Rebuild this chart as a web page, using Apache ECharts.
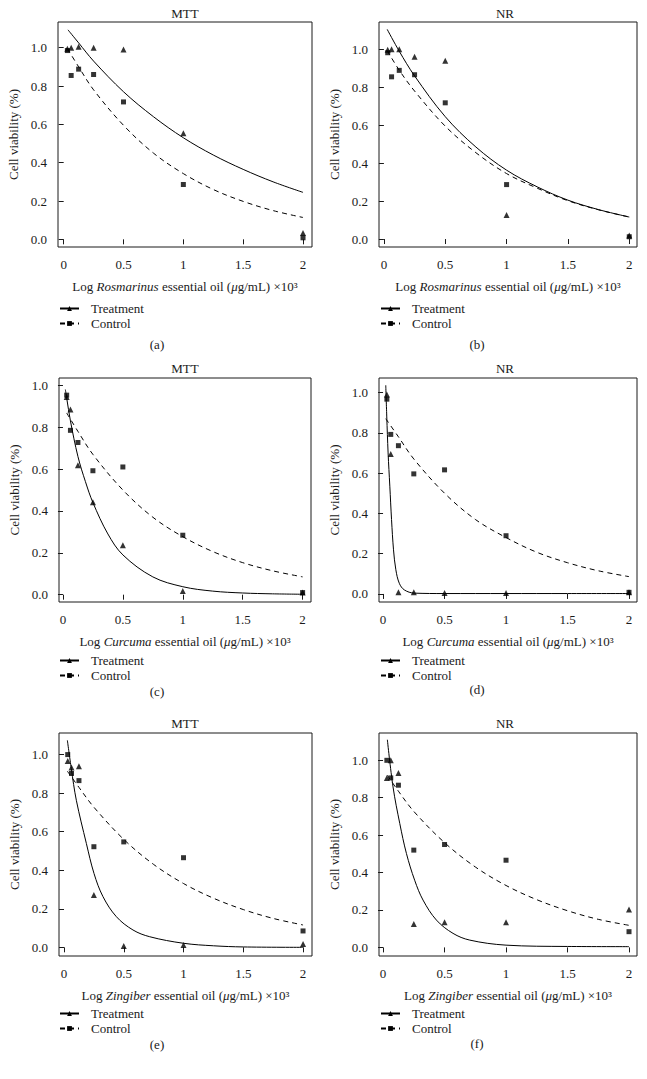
<!DOCTYPE html>
<html><head><meta charset="utf-8">
<script src="https://cdn.jsdelivr.net/npm/echarts@6/dist/echarts.min.js"></script>
<style>html,body{margin:0;padding:0;background:#fff}#c{width:647px;height:1079px}</style>
</head><body><div id="c"></div>
<script>
// ---------- DATA ----------
const doses = [0.031, 0.0625, 0.125, 0.25, 0.5, 1, 2];
const xTicks = [0, 0.5, 1, 1.5, 2];
const yTicks = [0, 0.2, 0.4, 0.6, 0.8, 1.0];
const panelTitles = ['MTT', 'NR', 'MTT', 'NR', 'MTT', 'NR'];
const panelLabels = ['(a)', '(b)', '(c)', '(d)', '(e)', '(f)'];
const oilNames = ['Rosmarinus', 'Rosmarinus', 'Curcuma', 'Curcuma', 'Zingiber', 'Zingiber'];
const seriesNames = ['Treatment', 'Control'];
const yAxisTitle = 'Cell viability (%)';

// measured points (triangles = treatment, squares = control)
const aTreat = [0.995, 1.0, 1.005, 1.0, 0.99, 0.553, 0.033];
const aCtrl  = [0.985, 0.855, 0.888, 0.86, 0.717, 0.286, 0.008];
const bTreat = [0.998, 1.0, 1.0, 0.961, 0.94, 0.127, 0.018];
const bCtrl  = [0.982, 0.855, 0.889, 0.866, 0.718, 0.287, 0.012];
const cTreat = [0.944, 0.884, 0.618, 0.441, 0.236, 0.018, 0.01];
const cCtrl  = [0.953, 0.785, 0.727, 0.592, 0.61, 0.284, 0.01];
const dTreat = [0.99, 0.695, 0.008, 0.008, 0.005, 0.005, 0.008];
const dCtrl  = [0.967, 0.792, 0.736, 0.596, 0.616, 0.289, 0.008];
const eTreat = [0.967, 0.933, 0.94, 0.271, 0.007, 0.012, 0.017];
const eCtrl  = [1.0, 0.902, 0.865, 0.522, 0.547, 0.465, 0.085];
const fTreat = [0.905, 1.0, 0.932, 0.125, 0.135, 0.135, 0.203];
const fCtrl  = [1.0, 0.906, 0.867, 0.52, 0.55, 0.466, 0.084];

// fitted curves
const aTreatCurveX = [0.036, 0.125, 0.25, 0.5, 0.75, 1, 1.25, 1.5, 1.75, 2];
const aTreatCurveY = [1.093, 1.025, 0.93, 0.77, 0.64, 0.53, 0.44, 0.365, 0.30, 0.245];
const aCtrlCurveX  = [0.031, 0.125, 0.25, 0.5, 0.75, 1, 1.25, 1.5, 1.75, 2];
const aCtrlCurveY  = [0.995, 0.90, 0.78, 0.595, 0.45, 0.343, 0.26, 0.198, 0.15, 0.114];
const bTreatCurveX = [0.027, 0.125, 0.25, 0.5, 0.75, 1, 1.25, 1.5, 1.75, 2];
const bTreatCurveY = [1.105, 0.99, 0.86, 0.645, 0.485, 0.363, 0.275, 0.205, 0.155, 0.116];
const bCtrlCurveX  = [0.027, 0.125, 0.25, 0.5, 0.75, 1, 1.25, 1.5, 1.75, 2];
const bCtrlCurveY  = [0.993, 0.89, 0.78, 0.595, 0.455, 0.345, 0.268, 0.202, 0.154, 0.116];
const cTreatCurveX = [0.02, 0.031, 0.0625, 0.125, 0.1875, 0.25, 0.375, 0.5, 0.75, 1, 1.25, 1.5, 1.75, 2];
const cTreatCurveY = [0.98, 0.94, 0.83, 0.66, 0.54, 0.44, 0.29, 0.19, 0.085, 0.038, 0.017, 0.008, 0.004, 0.002];
const cCtrlCurveX  = [0.031, 0.125, 0.25, 0.5, 0.75, 1, 1.25, 1.5, 1.75, 2];
const cCtrlCurveY  = [0.868, 0.78, 0.67, 0.50, 0.37, 0.277, 0.206, 0.153, 0.114, 0.085];
const dTreatCurveX = [0.022, 0.030, 0.041, 0.055, 0.069, 0.085, 0.104, 0.132, 0.173, 0.255, 0.5, 1, 1.5, 2];
const dTreatCurveY = [1.036, 0.883, 0.70, 0.535, 0.369, 0.219, 0.12, 0.053, 0.02, 0.004, 0.002, 0.002, 0.002, 0.002];
const dCtrlCurveX  = [0.022, 0.125, 0.25, 0.5, 0.75, 1, 1.25, 1.5, 1.75, 2];
const dCtrlCurveY  = [0.87, 0.78, 0.67, 0.50, 0.37, 0.28, 0.207, 0.155, 0.115, 0.086];
const eTreatCurveX = [0.028, 0.061, 0.103, 0.187, 0.251, 0.326, 0.438, 0.577, 0.717, 1.0, 1.25, 1.5, 2.0];
const eTreatCurveY = [1.074, 0.927, 0.763, 0.539, 0.383, 0.263, 0.159, 0.09, 0.055, 0.021, 0.008, 0.002, 0.0];
const eCtrlCurveX  = [0.028, 0.125, 0.25, 0.5, 0.75, 1, 1.25, 1.5, 1.75, 2];
const eCtrlCurveY  = [0.914, 0.83, 0.727, 0.56, 0.43, 0.331, 0.255, 0.196, 0.15, 0.116];
const fTreatCurveX = [0.035, 0.081, 0.136, 0.19, 0.257, 0.325, 0.434, 0.569, 0.705, 1.0, 1.5, 2];
const fTreatCurveY = [1.11, 0.858, 0.662, 0.502, 0.359, 0.253, 0.146, 0.075, 0.039, 0.012, 0.005, 0.004];
const fCtrlCurveX  = [0.035, 0.125, 0.25, 0.5, 0.75, 1, 1.25, 1.5, 1.75, 2];
const fCtrlCurveY  = [0.92, 0.835, 0.727, 0.56, 0.43, 0.331, 0.255, 0.196, 0.15, 0.118];

// ---------- LAYOUT ----------
const layout = [
  {left: 58,  top: 22,  width: 254, height: 225, xMin: -0.0475, xMax: 2.075, yMin: -0.040, yMax: 1.134, titleX: 185, titleY: 13,  legendLeft: 59,  legendTop: 302,  labelX: 157, labelY: 344},
  {left: 379, top: 22,  width: 258, height: 225, xMin: -0.040,  xMax: 2.063, yMin: -0.042, yMax: 1.144, titleX: 505, titleY: 13,  legendLeft: 380, legendTop: 302,  labelX: 477, labelY: 344},
  {left: 59,  top: 378, width: 252, height: 224, xMin: -0.033,  xMax: 2.070, yMin: -0.035, yMax: 1.035, titleX: 185, titleY: 368, legendLeft: 59,  legendTop: 654,  labelX: 157, labelY: 691},
  {left: 379, top: 378, width: 258, height: 224, xMin: -0.033,  xMax: 2.065, yMin: -0.040, yMax: 1.072, titleX: 505, titleY: 368, legendLeft: 380, legendTop: 654,  labelX: 477, labelY: 689},
  {left: 59,  top: 733, width: 253, height: 223, xMin: -0.042,  xMax: 2.075, yMin: -0.045, yMax: 1.112, titleX: 185, titleY: 723, legendLeft: 59,  legendTop: 1007, labelX: 157, labelY: 1044},
  {left: 379, top: 733, width: 258, height: 223, xMin: -0.033,  xMax: 2.065, yMin: -0.046, yMax: 1.146, titleX: 505, titleY: 723, legendLeft: 380, legendTop: 1007, labelX: 477, labelY: 1043}
];

const pointSets = [[aTreat, aCtrl], [bTreat, bCtrl], [cTreat, cCtrl], [dTreat, dCtrl], [eTreat, eCtrl], [fTreat, fCtrl]];
const curveSets = [
  [[aTreatCurveX, aTreatCurveY], [aCtrlCurveX, aCtrlCurveY]],
  [[bTreatCurveX, bTreatCurveY], [bCtrlCurveX, bCtrlCurveY]],
  [[cTreatCurveX, cTreatCurveY], [cCtrlCurveX, cCtrlCurveY]],
  [[dTreatCurveX, dTreatCurveY], [dCtrlCurveX, dCtrlCurveY]],
  [[eTreatCurveX, eTreatCurveY], [eCtrlCurveX, eCtrlCurveY]],
  [[fTreatCurveX, fTreatCurveY], [fCtrlCurveX, fCtrlCurveY]]
];

const FONT = "'Liberation Serif', 'DejaVu Serif', serif";
const INK = '#1a1a1a';
const FS = 13;
const zip = (xs, ys) => xs.map((x, i) => [x, ys[i]]);

const grid = [], xAxis = [], yAxis = [], series = [], legend = [], graphic = [];
layout.forEach((L, i) => {
  grid.push({left: L.left, top: L.top, width: L.width, height: L.height, show: true,
    borderColor: INK, borderWidth: 1, backgroundColor: 'transparent', containLabel: false, outerBoundsMode: 'none'});
  xAxis.push({type: 'value', gridIndex: i, min: L.xMin, max: L.xMax,
    axisLine: {show: false}, splitLine: {show: false},
    axisTick: {show: true, inside: false, length: 5, customValues: xTicks, lineStyle: {color: INK}},
    axisLabel: {customValues: xTicks, margin: 11, color: INK, fontFamily: FONT, fontSize: FS, formatter: v => String(v)},
    name: `{n|Log }{i|${oilNames[i]}}{n| essential oil (}{i|μ}{n|g/mL) ×10³}`,
    nameLocation: 'middle', nameGap: 33, nameMoveOverlap: false,
    nameTextStyle: {color: INK, fontFamily: FONT, fontSize: FS,
      rich: {n: {fontFamily: FONT, fontSize: FS, color: INK}, i: {fontFamily: FONT, fontSize: FS, color: INK, fontStyle: 'italic'}}}
  });
  yAxis.push({type: 'value', gridIndex: i, min: L.yMin, max: L.yMax,
    axisLine: {show: false}, splitLine: {show: false},
    axisTick: {show: true, inside: false, length: 5, customValues: yTicks, lineStyle: {color: INK}},
    axisLabel: {customValues: yTicks, margin: 11, color: INK, fontFamily: FONT, fontSize: FS, formatter: v => v.toFixed(1)},
    name: yAxisTitle, nameLocation: 'middle', nameGap: 38, nameMoveOverlap: false,
    nameTextStyle: {color: INK, fontFamily: FONT, fontSize: FS}
  });
  const [tc, cc] = curveSets[i];
  series.push({type: 'line', name: seriesNames[0], xAxisIndex: i, yAxisIndex: i, data: zip(tc[0], tc[1]),
    smooth: 0.35, showSymbol: false, symbol: 'triangle', color: '#000', clip: true,
    lineStyle: {color: '#000', width: 1, type: 'solid'}, itemStyle: {color: '#000'}, silent: true, z: 2});
  series.push({type: 'line', name: seriesNames[1], xAxisIndex: i, yAxisIndex: i, data: zip(cc[0], cc[1]),
    smooth: 0.35, showSymbol: false, symbol: 'rect', color: '#000', clip: true,
    lineStyle: {color: '#000', width: 1, type: [5, 4]}, itemStyle: {color: '#000'}, silent: true, z: 2});
  const [tp, cp] = pointSets[i];
  series.push({type: 'scatter', name: seriesNames[0] + ' data', xAxisIndex: i, yAxisIndex: i,
    data: zip(doses, tp), symbol: 'triangle', symbolSize: 6, itemStyle: {color: '#000'}, z: 3});
  series.push({type: 'scatter', name: seriesNames[1] + ' data', xAxisIndex: i, yAxisIndex: i,
    data: zip(doses, cp), symbol: 'rect', symbolSize: 5, itemStyle: {color: '#000'}, z: 3});
  legend.push({data: seriesNames, orient: 'vertical', left: L.legendLeft, top: L.legendTop, padding: 0,
    itemWidth: 19, itemHeight: 6, itemGap: 2, selectedMode: false,
    textStyle: {color: INK, fontFamily: FONT, fontSize: FS, padding: [0, 0, 0, 7]}});
  graphic.push({type: 'text', x: L.titleX, y: L.titleY, silent: true,
    style: {text: panelTitles[i], fill: INK, fontFamily: FONT, fontSize: FS, textAlign: 'center', textVerticalAlign: 'middle'}});
  graphic.push({type: 'text', x: L.labelX, y: L.labelY, silent: true,
    style: {text: panelLabels[i], fill: INK, fontFamily: FONT, fontSize: FS, textAlign: 'center', textVerticalAlign: 'middle'}});
});

const chart = echarts.init(document.getElementById('c'), null, {renderer: 'svg'});
chart.setOption({animation: false, backgroundColor: '#fff', grid, xAxis, yAxis, series, legend, graphic});
</script></body></html>
